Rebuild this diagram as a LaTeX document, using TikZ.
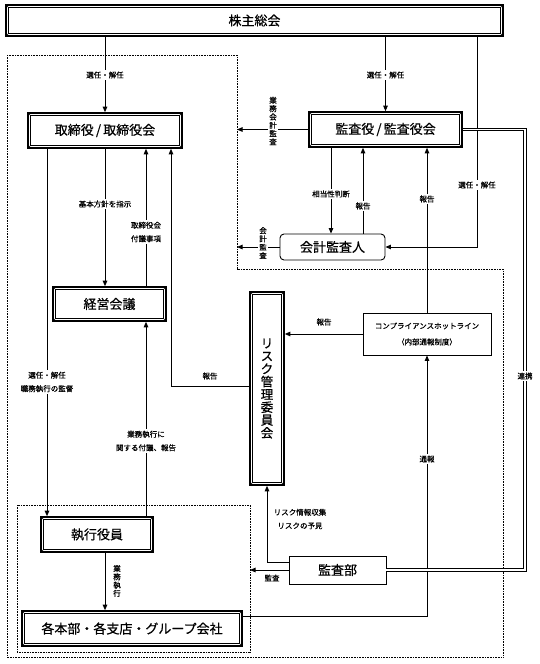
\documentclass[tikz,border=0pt]{standalone}
\usepackage{fontspec}
\setmainfont{Noto Sans CJK JP}[FakeBold=0.6]
\usetikzlibrary{arrows.meta,calc}
\tikzset{
  dbox/.style={draw, line width=1.6pt, fill=white, inner sep=0pt,
    font=\fontsize{13}{14}\selectfont,
    path picture={
      \draw[line width=0.7pt]
        ($(path picture bounding box.south west)+(2.8pt,2.8pt)$) rectangle
        ($(path picture bounding box.north east)+(-2.8pt,-2.8pt)$);
      \draw[line width=0.5pt] (path picture bounding box.south west) -- ++(2.8pt,2.8pt);
      \draw[line width=0.5pt] (path picture bounding box.north east) -- ++(-2.8pt,-2.8pt);
      \draw[line width=0.5pt] (path picture bounding box.south east) -- ++(-2.8pt,2.8pt);
      \draw[line width=0.5pt] (path picture bounding box.north west) -- ++(2.8pt,-2.8pt);
    }},
  sbox/.style={draw, line width=0.9pt, fill=white, inner sep=0pt,
    font=\fontsize{13}{14}\selectfont},
  arr/.style={line width=0.9pt, -{Triangle[length=5.5pt,width=4.5pt]}},
  dbl/.style={double, double distance=1.8pt, line width=0.8pt},
  dots/.style={line width=0.8pt, dash pattern=on 0.9pt off 0.7pt},
  lab/.style={fill=white, inner sep=1.5pt, align=center,
    font=\fontsize{7.5}{13.5}\selectfont},
  vlab/.style={fill=white, inner sep=1pt, align=center,
    font=\fontsize{7.5}{8.3}\selectfont}
}
\begin{document}
\begin{tikzpicture}[x=1pt,y=-1pt]
\useasboundingbox (0,0) rectangle (539,664);
% dotted frames
\draw[dots] (7,55) -- (237,55) -- (237,269) -- (503,269) -- (503,657) -- (7,657) -- cycle;
\draw[dots] (17,505) rectangle (250,652);

% nodes
\node[dbox, minimum width=497pt, minimum height=31pt] (sh) at (254.5,20.5) {株主総会};
\node[dbox, minimum width=154pt, minimum height=35pt] (tori) at (105,130.5) {取締役\,/\,取締役会};
\node[dbox, minimum width=153pt, minimum height=35pt] (kansa) at (385.5,129.5) {監査役\,/\,監査役会};
\node[sbox, rounded corners=4pt, minimum width=105pt, minimum height=26pt] (kaikei) at (332.5,247) {会計監査人};
\node[dbox, minimum width=113pt, minimum height=34pt] (keiei) at (109.5,304) {経営会議};
\node[dbox, minimum width=34pt, minimum height=193pt, align=center,
      font=\fontsize{12.5}{12.8}\selectfont] (risk) at (267,388.5) {リ\\ス\\ク\\管\\理\\委\\員\\会};
\node[sbox, minimum width=128pt, minimum height=42pt, align=center,
      font=\fontsize{7.5}{16}\selectfont] (hot) at (427,334) {コンプライアンスホットライン\\（内部通報制度）};
\node[dbox, minimum width=112pt, minimum height=35pt] (shikko) at (97,534.5) {執行役員};
\node[dbox, minimum width=220pt, minimum height=35pt] (kaku) at (132,628.5) {各本部・各支店・グループ会社};
\node[sbox, minimum width=97pt, minimum height=28pt] (kansabu) at (337.5,570) {監査部};

% helper coordinates
\coordinate (dl) at (237,0);
\coordinate (ib) at (250,0);
\coordinate (xa) at (477,0);
\coordinate (xb) at (331,0);
\coordinate (xc) at (363,0);
\coordinate (xd) at (146,0);
\coordinate (xe) at (171,0);
\coordinate (xf) at (47,0);
\coordinate (xr) at (525,0);
\coordinate (ya) at (0,386);
\coordinate (yb) at (0,616);
\coordinate (yc) at (0,562);

% connectors
\draw[arr] (sh.south -| tori.north) -- (tori.north);
\draw[arr] (sh.south -| kansa.north) -- (kansa.north);
\draw[arr] (sh.south -| xa) -- (xa |- kaikei.east) -- (kaikei.east);
\draw[arr] (kansa.west) -- (kansa.west -| dl);
\draw[arr] (kaikei.west) -- (kaikei.west -| dl);
\draw[arr] (kansa.south -| xb) -- (kaikei.north -| xb);
\draw[arr] (kaikei.north -| xc) -- (kansa.south -| xc);
\draw[arr] (hot.north) -- (kansa.south -| hot.north);
\draw[arr] (tori.south) -- (tori.south |- keiei.north);
\draw[arr] (keiei.north -| xd) -- (tori.south -| xd);
\draw[arr] (risk.west |- ya) -| (tori.south -| xe);
\draw[arr] (tori.south -| xf) -- (shikko.north -| xf);
\draw[arr] (shikko.north -| xd) -- (keiei.south -| xd);
\draw[arr] (shikko.south -| tori.south) -- (kaku.north -| tori.south);
\draw[arr] (hot.west) -- (hot.west -| risk.east);
\draw[arr] (kaku.east |- yb) -| (hot.south);
\draw[arr] (kansabu.west |- yc) -| (risk.south);
\draw[arr] (kansabu.west) -- (kansabu.west -| ib);
\draw[dbl] (kansa.east) -| (xr |- kansabu.east) -- (kansabu.east);

% labels
\node[lab] (l1) at (105,75) {選任・解任};
\node[lab] (l2) at (385.5,75) {選任・解任};
\node[lab] (l3) at (477,185) {選任・解任};
\node[vlab] (l4) at (273,121) {業\\務\\会\\計\\監\\査};
\node[vlab] (l5) at (263,243) {会\\計\\監\\査};
\node[lab] (l6) at (331,194) {相当性判断};
\node[lab] (l7) at (363,206) {報告};
\node[lab] (l8) at (427,199) {報告};
\node[lab] (l9) at (105,204) {基本方針を指示};
\node[lab] (l10) at (146,232) {取締役会\\付議事項};
\node[lab, fill=none] (l11) at (210,376) {報告};
\node[lab] (l12) at (47,382) {選任・解任\\職務執行の監督};
\node[lab] (l13) at (146,441) {業務執行に\\関する付議、報告};
\node[lab, fill=none] (l14) at (324,322) {報告};
\node[lab] (l15) at (427,459) {通報};
\node[lab, fill=none] (l16) at (300,519) {リスク情報収集\\リスクの予見};
\node[lab, fill=none] (l17) at (272,578) {監査};
\node[vlab, fill=none] (l18) at (117,581) {業\\務\\執\\行};
\node[lab] (l19) at (525,376) {連携};
\end{tikzpicture}
\end{document}
